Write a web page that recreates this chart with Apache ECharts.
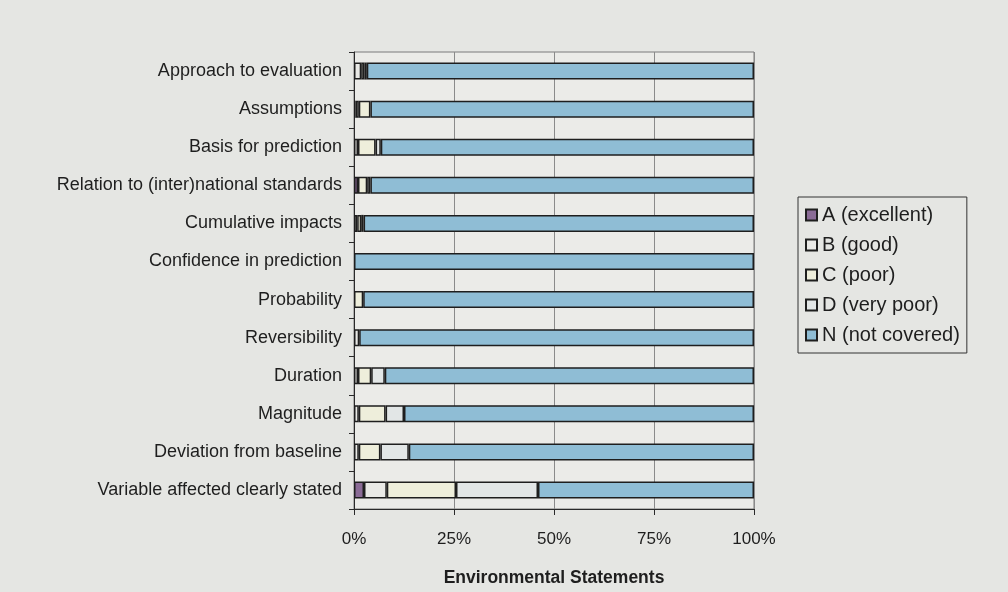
<!DOCTYPE html>
<html>
<head>
<meta charset="utf-8">
<title>Environmental Statements</title>
<script src="https://cdn.jsdelivr.net/npm/echarts@6/dist/echarts.min.js"></script>
<style>
  html, body { margin: 0; padding: 0; background: #e5e6e3; }
  #chart { width: 1008px; height: 592px; }
</style>
</head>
<body>
<div id="chart"></div>
<script>
// categories, top to bottom
const categories = [
  'Approach to evaluation',
  'Assumptions',
  'Basis for prediction',
  'Relation to (inter)national standards',
  'Cumulative impacts',
  'Confidence in prediction',
  'Probability',
  'Reversibility',
  'Duration',
  'Magnitude',
  'Deviation from baseline',
  'Variable affected clearly stated'
]

// share of statements per grade (%), same order as categories
const gradeA = [0, 0.4, 0, 1, 0, 0, 0, 0, 0, 0, 0, 2.5]
const gradeB = [1.8, 0.8, 1, 0, 0.8, 0, 0, 1.3, 1, 1.2, 1.2, 5.7]
const gradeC = [0.8, 2.9, 4.4, 2.3, 1, 0, 2.3, 0, 3.3, 6.7, 5.4, 17.3]
const gradeD = [0.6, 0, 1.3, 0.8, 0.6, 0, 0, 0, 3.4, 4.6, 7.1, 20.5]
const gradeN = [96.8, 95.9, 93.3, 95.9, 97.6, 100, 97.7, 98.7, 92.3, 87.5, 86.3, 54]

const xTicks = [0, 25, 50, 75, 100]

const seriesNames = ['A (excellent)', 'B (good)', 'C (poor)', 'D (very poor)', 'N (not covered)']
const seriesColors = ['#8a6b96', '#e9e9e6', '#eeeedb', '#e2e6e6', '#8fbdd5']
const seriesValues = [gradeA, gradeB, gradeC, gradeD, gradeN]

const font = "'Liberation Sans', Arial, sans-serif"

const chart = echarts.init(document.getElementById('chart'))

const option = {
  backgroundColor: '#e5e6e3',
  animation: false,
  textStyle: { fontFamily: font },
  grid: {
    left: 354,
    right: 254,
    top: 52,
    bottom: 83,
    outerBoundsMode: 'none',
    show: true,
    backgroundColor: '#ebebe8',
    borderColor: '#7a7a7a',
    borderWidth: 1
  },
  legend: {
    orient: 'vertical',
    left: 798,
    top: 197,
    padding: [8, 7, 8, 7],
    itemWidth: 11,
    itemHeight: 11,
    itemGap: 10,
    borderColor: '#333',
    borderWidth: 1,
    icon: 'rect',
    data: seriesNames,
    textStyle: { fontSize: 20, color: '#1e1e1e', fontFamily: font }
  },
  xAxis: {
    type: 'value',
    min: 0,
    max: 100,
    interval: 25,
    name: 'Environmental Statements',
    nameLocation: 'middle',
    nameGap: 60,
    nameTextStyle: { fontSize: 17.5, fontWeight: 'bold', color: '#1e1e1e' },
    axisLine: { show: true, lineStyle: { color: '#2a2a2a', width: 1 } },
    axisTick: { show: true, length: 6, lineStyle: { color: '#2a2a2a' } },
    axisLabel: {
      fontSize: 17,
      color: '#1e1e1e',
      margin: 22,
      customValues: xTicks,
      formatter: v => v + '%'
    },
    splitLine: { show: true, lineStyle: { color: '#8a8a8a', width: 1 } }
  },
  yAxis: {
    type: 'category',
    inverse: true,
    data: categories,
    axisLine: { show: true, lineStyle: { color: '#2a2a2a', width: 1 } },
    axisTick: { show: true, length: 5, lineStyle: { color: '#2a2a2a' } },
    axisLabel: { fontSize: 18, color: '#1e1e1e', margin: 12 },
    splitLine: { show: false }
  },
  series: seriesNames.map((name, i) => ({
    name: name,
    type: 'bar',
    stack: 'total',
    barWidth: 17,
    data: seriesValues[i].map(v => (v === 0 ? '-' : v)),
    itemStyle: {
      color: seriesColors[i],
      borderColor: '#1e1e1e',
      borderWidth: 1.5
    },
    emphasis: { disabled: true }
  }))
}

chart.setOption(option)
</script>
</body>
</html>
